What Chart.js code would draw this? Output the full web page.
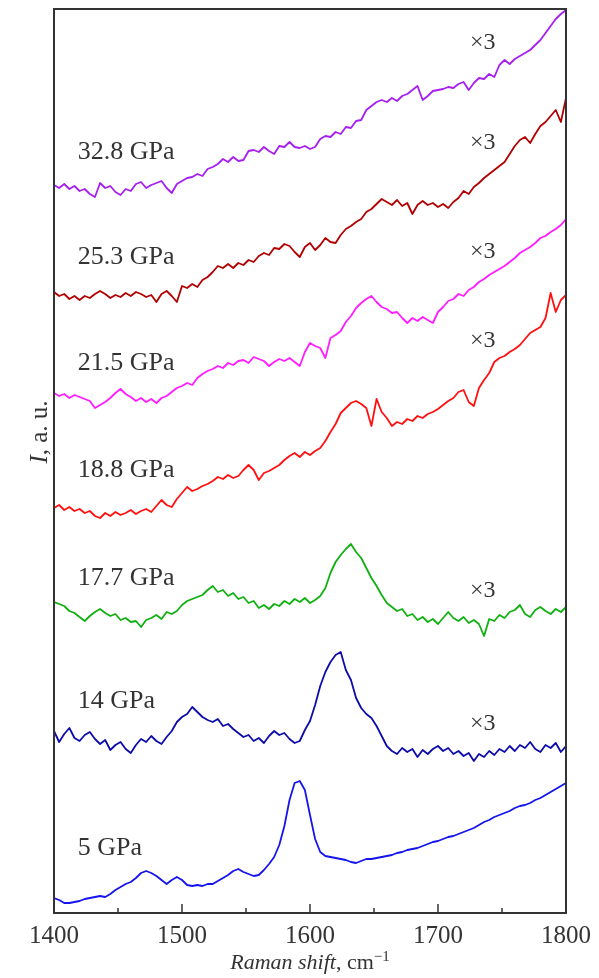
<!DOCTYPE html>
<html lang="en">
<head>
<meta charset="UTF-8">
<title>Raman spectra under pressure</title>
<script src="https://cdn.jsdelivr.net/npm/chart.js@4"></script>
<style>
  body { margin: 0; background: #fff; }
  #wrap { position: relative; width: 599px; height: 978px; }
  #xtitle { position: absolute; left: 54px; width: 512px; top: 950px; text-align: center;
    font: 22px "Liberation Serif", "Times New Roman", serif; line-height: 24px; color: #333; }
  #xtitle sup { font-size: 15px; vertical-align: 8px; line-height: 0; }
  #ytitle { position: absolute; left: -62px; top: 419px; width: 200px; height: 26px; line-height: 26px;
    text-align: center; transform: rotate(-90deg);
    font: 25px "Liberation Serif", "Times New Roman", serif; color: #333; }
</style>
</head>
<body>
<div id="wrap">
  <canvas id="chart" width="599" height="978"></canvas>
  <div id="ytitle"><i>I</i>, a. u.</div>
  <div id="xtitle"><i>Raman shift</i>, cm<sup>&minus;1</sup></div>
</div>
<script>
// Raman shift sample positions, cm-1
const ramanShift = [
  1400, 1404, 1408, 1412, 1416, 1420, 1424, 1428, 1432, 1436,
  1440, 1444, 1448, 1452, 1456, 1460, 1464, 1468, 1472, 1476,
  1480, 1484, 1488, 1492, 1496, 1500, 1504, 1508, 1512, 1516,
  1520, 1524, 1528, 1532, 1536, 1540, 1544, 1548, 1552, 1556,
  1560, 1564, 1568, 1572, 1576, 1580, 1584, 1588, 1592, 1596,
  1600, 1604, 1608, 1612, 1616, 1620, 1624, 1628, 1632, 1636,
  1640, 1644, 1648, 1652, 1656, 1660, 1664, 1668, 1672, 1676,
  1680, 1684, 1688, 1692, 1696, 1700, 1704, 1708, 1712, 1716,
  1720, 1724, 1728, 1732, 1736, 1740, 1744, 1748, 1752, 1756,
  1760, 1764, 1768, 1772, 1776, 1780, 1784, 1788, 1792, 1796,
  1800
];

// intensities (a.u., stacked with offsets as in the figure)
const i328 = [
  728, 725, 729, 724, 727, 722, 724, 719, 716, 730,
  725, 727, 721, 718, 724, 722, 729, 731, 725, 728,
  730, 732, 725, 720, 729, 732, 735, 736, 739, 737,
  744, 746, 749, 754, 751, 756, 752, 753, 762, 763,
  761, 766, 762, 759, 767, 766, 771, 766, 765, 767,
  764, 766, 774, 777, 776, 781, 779, 786, 785, 792,
  793, 803, 807, 811, 813, 811, 815, 812, 817, 819,
  823, 827, 813, 817, 822, 823, 824, 826, 825, 829,
  831, 823, 830, 835, 834, 839, 836, 848, 853, 849,
  854, 857, 860, 863, 868, 873, 880, 887, 894, 899,
  903
];
const i253 = [
  621, 617, 619, 614, 617, 613, 617, 615, 619, 622,
  619, 615, 618, 616, 620, 617, 621, 619, 616, 618,
  611, 619, 622, 617, 611, 627, 625, 629, 626, 633,
  636, 641, 647, 645, 649, 645, 650, 648, 653, 651,
  657, 660, 658, 665, 664, 669, 667, 661, 656, 666,
  670, 663, 668, 675, 671, 670, 678, 684, 687, 691,
  694, 701, 704, 709, 714, 711, 708, 713, 707, 710,
  699, 708, 712, 708, 710, 706, 709, 705, 711, 715,
  722, 719, 726, 730, 735, 739, 743, 747, 751, 759,
  767, 773, 776, 770, 779, 787, 791, 797, 803, 791,
  815
];
const i215 = [
  520, 517, 519, 515, 518, 516, 514, 512, 505, 508,
  511, 515, 520, 524, 519, 516, 512, 515, 511, 514,
  510, 515, 517, 521, 525, 527, 530, 528, 535, 539,
  542, 544, 547, 545, 550, 548, 552, 553, 550, 556,
  554, 552, 547, 551, 554, 552, 555, 551, 547, 561,
  570, 567, 565, 555, 575, 578, 582, 591, 597, 605,
  610, 614, 617, 611, 606, 604, 600, 601, 595, 590,
  595, 592, 596, 593, 590, 601, 606, 612, 614, 619,
  617, 623, 626, 631, 634, 638, 641, 644, 647, 651,
  655, 660, 663, 666, 670, 675, 677, 681, 684, 688,
  694
];
const i188 = [
  405, 408, 403, 406, 402, 404, 400, 402, 397, 395,
  400, 397, 401, 398, 400, 403, 399, 402, 404, 401,
  407, 413, 408, 406, 414, 420, 426, 422, 424, 427,
  429, 432, 436, 434, 438, 435, 437, 443, 448, 443,
  433, 440, 442, 445, 448, 453, 457, 460, 456, 461,
  458, 462, 465, 472, 481, 489, 500, 505, 510, 512,
  509, 505, 487, 514, 501, 495, 487, 491, 489, 494,
  492, 497, 495, 499, 501, 504, 508, 512, 515, 521,
  523, 511, 507, 525, 533, 540, 551, 555, 557, 561,
  564, 568, 574, 580, 583, 586, 595, 620, 601, 613,
  618
];
const i177 = [
  311, 309, 307, 302, 300, 296, 292, 297, 301, 304,
  300, 297, 299, 293, 295, 291, 292, 286, 293, 295,
  298, 294, 301, 299, 302, 308, 312, 314, 316, 318,
  323, 327, 321, 323, 317, 320, 314, 316, 310, 312,
  305, 308, 304, 309, 307, 312, 309, 314, 311, 315,
  310, 313, 317, 325, 340, 351, 358, 364, 369, 361,
  355, 345, 335, 327, 318, 310, 306, 302, 304, 297,
  299, 293, 296, 291, 294, 289, 295, 301, 295, 292,
  296, 290, 293, 289, 277, 294, 292, 298, 295, 301,
  303, 308, 299, 296, 303, 306, 302, 299, 304, 301,
  306
];
const i14 = [
  182, 171, 179, 185, 175, 172, 178, 181, 174, 169,
  173, 163, 168, 171, 164, 160, 168, 174, 171, 177,
  172, 169, 176, 182, 191, 196, 199, 206, 201, 196,
  193, 191, 194, 187, 189, 184, 180, 176, 178, 172,
  175, 170, 177, 182, 178, 180, 174, 170, 172, 183,
  192, 208, 227, 241, 251, 258, 261, 243, 233, 215,
  205, 199, 195, 187, 177, 167, 162, 159, 165, 161,
  164, 156, 163, 159, 164, 167, 162, 165, 159, 162,
  157, 160, 152, 159, 156, 162, 158, 164, 161, 167,
  162, 168, 165, 171, 164, 161, 168, 165, 170, 161,
  167
];
const i5 = [
  15, 13, 10, 10, 11, 12, 14, 15, 16, 17,
  16, 19, 23, 26, 29, 31, 35, 40, 42, 40,
  37, 33, 29, 33, 36, 33, 28, 27, 28, 27,
  29, 29, 32, 35, 38, 42, 44, 41, 39, 37,
  38, 43, 49, 56, 68, 87, 113, 130, 132, 123,
  98, 74, 61, 57, 56, 55, 54, 53, 51, 50,
  52, 54, 54, 55, 56, 57, 58, 60, 61, 63,
  64, 65, 67, 69, 71, 72, 74, 76, 77, 79,
  81, 83, 85, 88, 91, 93, 96, 98, 100, 102,
  105, 107, 108, 110, 113, 115, 118, 121, 124, 127,
  130
];

const pressures = ['32.8 GPa', '25.3 GPa', '21.5 GPa', '18.8 GPa', '17.7 GPa', '14 GPa', '5 GPa'];
const scaleNotes = ['×3', '×3', '×3', '×3', '×3', '×3'];

// where the annotations sit, in data units
const pressureAnchors = [[1418.5, 761], [1418.5, 656], [1418.5, 550], [1418.5, 443], [1418.5, 335], [1418.5, 212], [1418.5, 65]];
const noteAnchors = [[1735, 870], [1735, 770], [1735, 661], [1735, 572], [1735, 322], [1735, 189]];

const colors = ['#a61ef0', '#b20000', '#ff1cff', '#ff1010', '#10b010', '#0c0caa', '#1414ee'];
const series = [i328, i253, i215, i188, i177, i14, i5];

const serif = '"Liberation Serif", "Times New Roman", serif';

const frameAndNotes = {
  id: 'frameAndNotes',
  afterDatasetsDraw(chart) {
    const { ctx, chartArea: a, scales: { x, y } } = chart;
    ctx.save();
    ctx.strokeStyle = '#333';
    ctx.lineWidth = 2;
    ctx.strokeRect(a.left, a.top, a.right - a.left, a.bottom - a.top);

    // inward ticks
    ctx.lineWidth = 1.5;
    for (let v = x.min; v <= x.max; v += 50) {
      const px = x.getPixelForValue(v);
      const len = v % 100 === 0 ? 9 : 5;
      ctx.beginPath();
      ctx.moveTo(px, a.bottom);
      ctx.lineTo(px, a.bottom - len);
      ctx.stroke();
    }

    ctx.fillStyle = '#333';
    ctx.textBaseline = 'middle';
    ctx.font = '26px ' + serif;
    ctx.textAlign = 'left';
    pressures.forEach((t, i) => {
      const [vx, vy] = pressureAnchors[i];
      ctx.fillText(t, x.getPixelForValue(vx), y.getPixelForValue(vy));
    });
    ctx.font = '24px ' + serif;
    ctx.textAlign = 'center';
    scaleNotes.forEach((t, i) => {
      const [vx, vy] = noteAnchors[i];
      ctx.fillText(t, x.getPixelForValue(vx), y.getPixelForValue(vy));
    });
    ctx.restore();
  }
};

new Chart(document.getElementById('chart'), {
  type: 'line',
  data: {
    datasets: series.map((s, i) => ({
      label: pressures[i],
      data: s.map((v, k) => ({ x: ramanShift[k], y: v })),
      borderColor: colors[i],
      borderWidth: 1.8,
      pointRadius: 0,
      tension: 0,
      borderJoinStyle: 'round'
    }))
  },
  options: {
    responsive: false,
    animation: false,
    devicePixelRatio: 1,
    layout: { padding: { left: 54, right: 33, top: 9, bottom: 0 } },
    plugins: { legend: { display: false }, tooltip: { enabled: false } },
    scales: {
      x: {
        type: 'linear',
        min: 1400,
        max: 1800,
        ticks: { stepSize: 100, color: '#333', padding: 8, maxRotation: 0, autoSkip: false,
          font: { family: serif, size: 25 },
          callback: v => String(v) },
        grid: { display: false, drawTicks: false },
        border: { display: false },
        afterFit(s) { s.height = 65; }
      },
      y: { display: false, min: 0, max: 904 }
    }
  },
  plugins: [frameAndNotes]
});
</script>
</body>
</html>
